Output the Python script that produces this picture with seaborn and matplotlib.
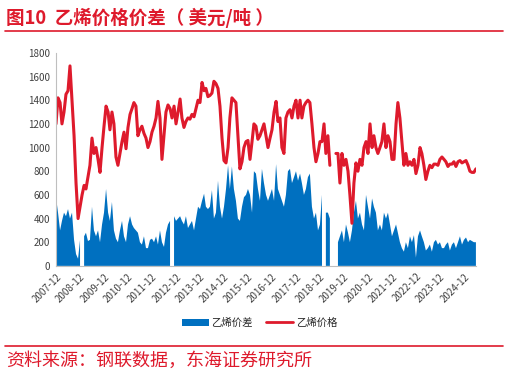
import numpy as np
import pandas as pd
import matplotlib
matplotlib.use("Agg")
import matplotlib.pyplot as plt
import matplotlib.dates as mdates
from matplotlib.patches import Patch
from matplotlib.lines import Line2D
import seaborn as sns

# monthly readings, 2007-12 .. 2025-06 (USD/t)
price_0712 = [1200]
price_2008 = [1420, 1380, 1200, 1300, 1450, 1480, 1690, 1400, 1100, 700, 400, 500]
price_2009 = [600, 680, 650, 750, 850, 1080, 950, 1000, 900, 790, 1000, 1180]
price_2010 = [1350, 1300, 1150, 1300, 1200, 920, 850, 950, 1050, 1130, 990, 1170]
price_2011 = [1280, 1330, 1380, 1350, 1100, 1150, 1180, 1120, 1080, 1000, 1050, 1130]
price_2012 = [1180, 1250, 1390, 1250, 900, 1100, 1300, 1360, 1330, 1250, 1350, 1200]
price_2013 = [1300, 1410, 1250, 1170, 1220, 1250, 1240, 1280, 1260, 1330, 1400, 1380]
price_2014 = [1550, 1480, 1500, 1430, 1440, 1460, 1560, 1540, 1500, 1350, 1080, 890]
price_2015 = [870, 1000, 1250, 1420, 1400, 1380, 1100, 820, 880, 1000, 1050, 1060]
price_2016 = [900, 1050, 1200, 1180, 1070, 1100, 1150, 1200, 1100, 1000, 1080, 1150]
price_2017 = [1300, 1390, 1220, 1250, 1000, 950, 1250, 1300, 1320, 1250, 1350, 1400]
price_2018 = [1250, 1400, 1250, 1350, 1380, 1400, 1380, 1200, 1000, 880, 950, 1050]
price_2019 = [1050, 1200, 950, 1100, 850, np.nan, np.nan, 950, 950, 700, 950, 850]
price_2020 = [900, 800, 600, 360, 700, 870, 800, 900, 850, 1000, 1050, 950]
price_2021 = [1200, 1000, 1100, 1000, 950, 1000, 1050, 1200, 1000, 1100, 1050, 900]
price_2022 = [900, 1200, 1380, 1250, 1050, 850, 950, 850, 880, 850, 900, 780]
price_2023 = [850, 1000, 950, 850, 730, 800, 850, 830, 860, 860, 850, 900]
price_2024 = [920, 900, 880, 840, 860, 860, 880, 840, 880, 890, 870, 880]
price_2025 = [890, 850, 800, 790, 790, 820]

spread_0712 = [580]
spread_2008 = [450, 300, 380, 450, 420, 480, 400, 450, 220, 100, 60, 220]
spread_2009 = [np.nan, 250, 280, 210, 220, 500, 300, 250, 300, 200, 350, 450]
spread_2010 = [650, 450, 380, 540, 300, 230, 200, 300, 380, 250, 200, 350]
spread_2011 = [420, 350, 320, 300, 280, 200, 180, 250, 150, 150, 220, 230]
spread_2012 = [200, 250, 180, 300, 200, 160, 280, 350, 380, np.nan, 420, 380]
spread_2013 = [400, 420, 380, 350, 420, 320, 350, 380, 300, 400, 500, 480]
spread_2014 = [550, 610, 500, 480, 500, 640, 400, 450, 720, 500, 400, 500]
spread_2015 = [650, 850, 650, 840, 650, 550, 400, 380, 500, 580, 600, 650]
spread_2016 = [600, 450, 800, 780, 650, 550, 820, 700, 600, 550, 600, 650]
spread_2017 = [550, 860, 650, 600, 550, 500, 600, 800, 820, 700, 750, 800]
spread_2018 = [720, 780, 700, 600, 650, 750, 780, 500, 400, 450, 300, 350]
spread_2019 = [600, np.nan, 450, 450, 400, np.nan, np.nan, np.nan, 200, 250, 300, 200]
spread_2020 = [350, 280, 200, 300, 450, 550, 400, 450, 350, 300, 600, 500]
spread_2021 = [400, 570, 500, 450, 300, 350, 300, 450, 400, 450, 350, 250]
spread_2022 = [300, 350, 280, 200, 150, 120, 200, 150, 250, 200, 260, 70]
spread_2023 = [250, 300, 250, 200, 130, 150, 180, 120, 200, 220, 180, 200]
spread_2024 = [150, 150, 180, 200, 130, 180, 200, 150, 200, 250, 180, 220]
spread_2025 = [240, 200, 220, 210, 200, 200]

price = (price_0712 + price_2008 + price_2009 + price_2010 + price_2011 + price_2012
         + price_2013 + price_2014 + price_2015 + price_2016 + price_2017 + price_2018
         + price_2019 + price_2020 + price_2021 + price_2022 + price_2023 + price_2024
         + price_2025)
spread = (spread_0712 + spread_2008 + spread_2009 + spread_2010 + spread_2011 + spread_2012
          + spread_2013 + spread_2014 + spread_2015 + spread_2016 + spread_2017 + spread_2018
          + spread_2019 + spread_2020 + spread_2021 + spread_2022 + spread_2023 + spread_2024
          + spread_2025)

dates = pd.date_range("2007-12-01", periods=len(price), freq="MS")
df = pd.DataFrame({"date": dates, "price": price, "spread": spread})

blue = "#0070C0"
red = "#DE1A2C"

sns.set_style("white")
plt.rcParams["font.family"] = ["Noto Sans CJK SC", "DejaVu Sans"]

fig = plt.figure(figsize=(5.09, 3.75), dpi=100)
ax = fig.add_axes([0.110, 0.291, 0.825, 0.568])

ax.fill_between(df["date"], 0, df["spread"], color=blue, linewidth=0)
# split at missing values so the line breaks like the source
df["seg"] = df["price"].isna().cumsum()
for _, part in df.dropna(subset=["price"]).groupby("seg"):
    sns.lineplot(data=part, x="date", y="price", ax=ax, color=red, linewidth=2.2)

ax.set_ylim(0, 1800)
ax.set_yticks(range(0, 1801, 200))
ax.set_xlim(dates[0], dates[-1])
ax.xaxis.set_major_locator(mdates.MonthLocator(bymonth=12))
ax.xaxis.set_major_formatter(mdates.DateFormatter("%Y-%m"))
ax.set_xlabel("")
ax.set_ylabel("")
for s in ["top", "right"]:
    ax.spines[s].set_visible(False)
for s in ["left", "bottom"]:
    ax.spines[s].set_color("#BFBFBF")
    ax.spines[s].set_linewidth(0.8)
ax.tick_params(axis="y", labelsize=7, colors="#404040", length=0, pad=4)
ax.tick_params(axis="x", labelsize=7, colors="#404040", length=3, width=0.6,
               direction="out", pad=1)
ax.tick_params(axis="x", color="#BFBFBF")
plt.setp(ax.get_xticklabels(), rotation=45, ha="right", rotation_mode="anchor")

handles = [Patch(facecolor=blue, edgecolor="none"), Line2D([], [], color=red, linewidth=2.0)]
fig.legend(handles, ["乙烯价差", "乙烯价格"], loc="center", bbox_to_anchor=(0.51, 0.139),
           ncol=2, frameon=False, fontsize=7.5, handlelength=2.6, handleheight=0.6,
           columnspacing=1.3, handletextpad=0.25)

fig.text(0.012, 0.951, "图10  乙烯价格价差（ 美元/吨 ）", color=red, fontsize=13.3,
         fontweight="bold", va="center", ha="left")
fig.add_artist(Line2D([0.01, 0.988], [0.918, 0.918], color=red, linewidth=1.2))
fig.add_artist(Line2D([0.01, 0.988], [0.077, 0.077], color=red, linewidth=1.2))
fig.text(0.012, 0.038, "资料来源：钢联数据，东海证券研究所", color=red, fontsize=13,
         va="center", ha="left")

fig.savefig("out.png", dpi=100)
